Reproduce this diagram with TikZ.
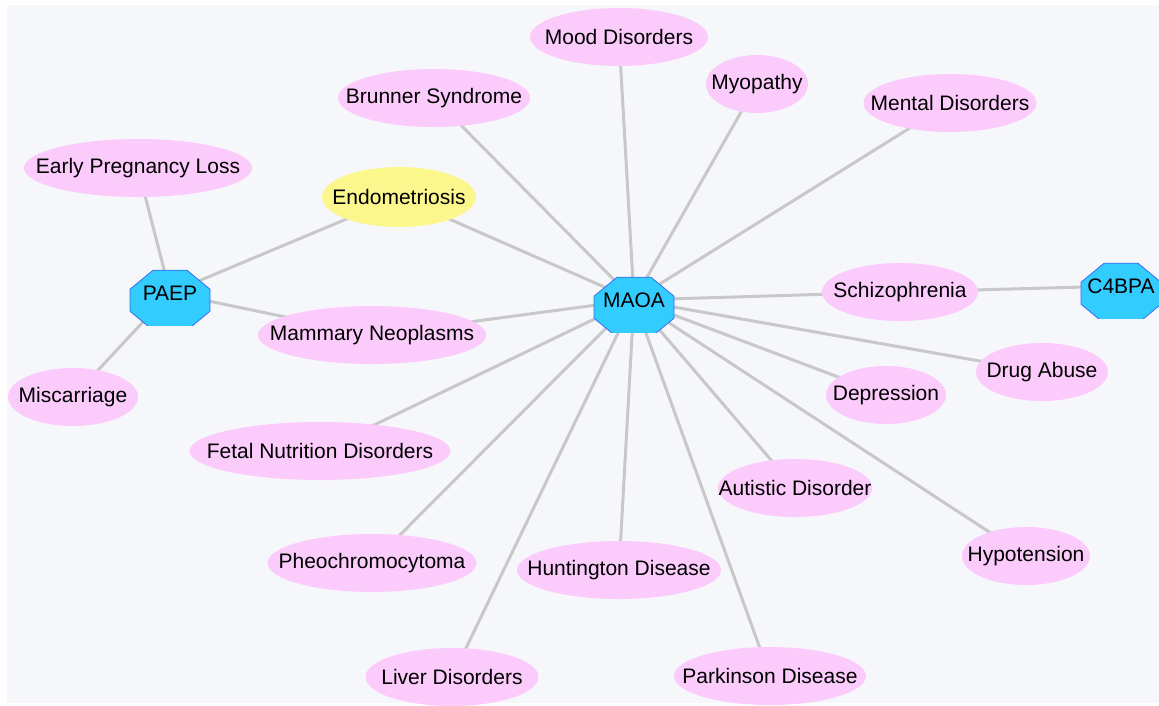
\documentclass[tikz,border=0pt]{standalone}
\usepackage{fontspec}
\setmainfont{Liberation Sans}
\usetikzlibrary{shapes.geometric,backgrounds}
\definecolor{pinkfill}{HTML}{FBCBFB}
\definecolor{yellowfill}{HTML}{FBF78C}
\definecolor{genefill}{HTML}{33CCFF}
\definecolor{genedraw}{HTML}{3A6CF0}
\definecolor{edgecol}{HTML}{C8C8C8}
\definecolor{bgcol}{HTML}{F6F7FB}
\newcommand{\lbl}[1]{\makebox[0pt]{#1}}
\tikzset{
  disease/.style={ellipse, fill=pinkfill, inner sep=0pt, minimum height=58pt},
  gene/.style={rectangle, inner sep=0pt, minimum width=84pt, minimum height=64pt,
    path picture={\draw[fill=genefill, draw=genedraw, line width=0.8pt,
      shift={(path picture bounding box.center)}]
      (-17,-30) -- (17,-30) -- (40,-11) -- (40,11) -- (17,30) -- (-17,30)
      -- (-40,11) -- (-40,-11) -- cycle;}},
  link/.style={draw=edgecol, line width=3pt}
}
\begin{document}
\begin{tikzpicture}[x=1pt,y=-1pt,font=\fontsize{21}{25}\selectfont]
      \useasboundingbox (0,0) rectangle (1159,705);
      % genes
      \node[gene] (maoa) at (634,300) {\lbl{MAOA}};
      \node[gene] (paep) at (170,293) {\lbl{PAEP}};
      \node[gene] (c4bpa) at (1121,286) {\lbl{C4BPA}};
      % diseases
      \node[disease, minimum width=178pt] (mood) at (619,37) {\lbl{Mood Disorders}};
      \node[disease, minimum width=102pt] (myo) at (757,84) {\lbl{Myopathy}};
      \node[disease, minimum width=192pt] (brun) at (434,98) {\lbl{Brunner Syndrome}};
      \node[disease, minimum width=173pt] (ment) at (950,103) {\lbl{Mental Disorders}};
      \node[disease, minimum width=228pt] (epl) at (138,168) {\lbl{Early Pregnancy Loss}};
      \node[disease, fill=yellowfill, minimum width=154pt, minimum height=60pt] (endo) at (399,197) {\lbl{Endometriosis}};
      \node[disease, minimum width=156pt] (schiz) at (900,292) {\lbl{Schizophrenia}};
      \node[disease, minimum width=228pt] (mamm) at (372,335) {\lbl{Mammary Neoplasms}};
      \node[disease, minimum width=130pt] (misc) at (73,397) {\lbl{Miscarriage}};
      \node[disease, minimum width=132pt] (drug) at (1042,372) {\lbl{Drug Abuse}};
      \node[disease, minimum width=120pt] (depr) at (886,395) {\lbl{Depression}};
      \node[disease, minimum width=261pt] (fetal) at (320,451) {\lbl{Fetal Nutrition Disorders}};
      \node[disease, minimum width=154pt] (aut) at (795,488) {\lbl{Autistic Disorder}};
      \node[disease, minimum width=128pt] (hypo) at (1026,556) {\lbl{Hypotension}};
      \node[disease, minimum width=209pt] (pheo) at (372,563) {\lbl{Pheochromocytoma}};
      \node[disease, minimum width=204pt] (hunt) at (619,570) {\lbl{Huntington Disease}};
      \node[disease, minimum width=173pt] (liver) at (452,677) {\lbl{Liver Disorders}};
      \node[disease, minimum width=192pt] (park) at (770,676) {\lbl{Parkinson Disease}};
      % edges
      \begin{pgfonlayer}{background}
      \fill[bgcol] (7,5) rectangle (1159,703);
      \foreach \d in {mood,myo,brun,ment,endo,schiz,mamm,drug,depr,fetal,aut,hypo,pheo,hunt,liver,park}
        \draw[link] (maoa.center) -- (\d.center);
      \foreach \d in {epl,endo,mamm,misc}
        \draw[link] (paep.center) -- (\d.center);
      \draw[link] (schiz.center) -- (c4bpa.center);
      \end{pgfonlayer}
    \end{tikzpicture}
\end{document}
